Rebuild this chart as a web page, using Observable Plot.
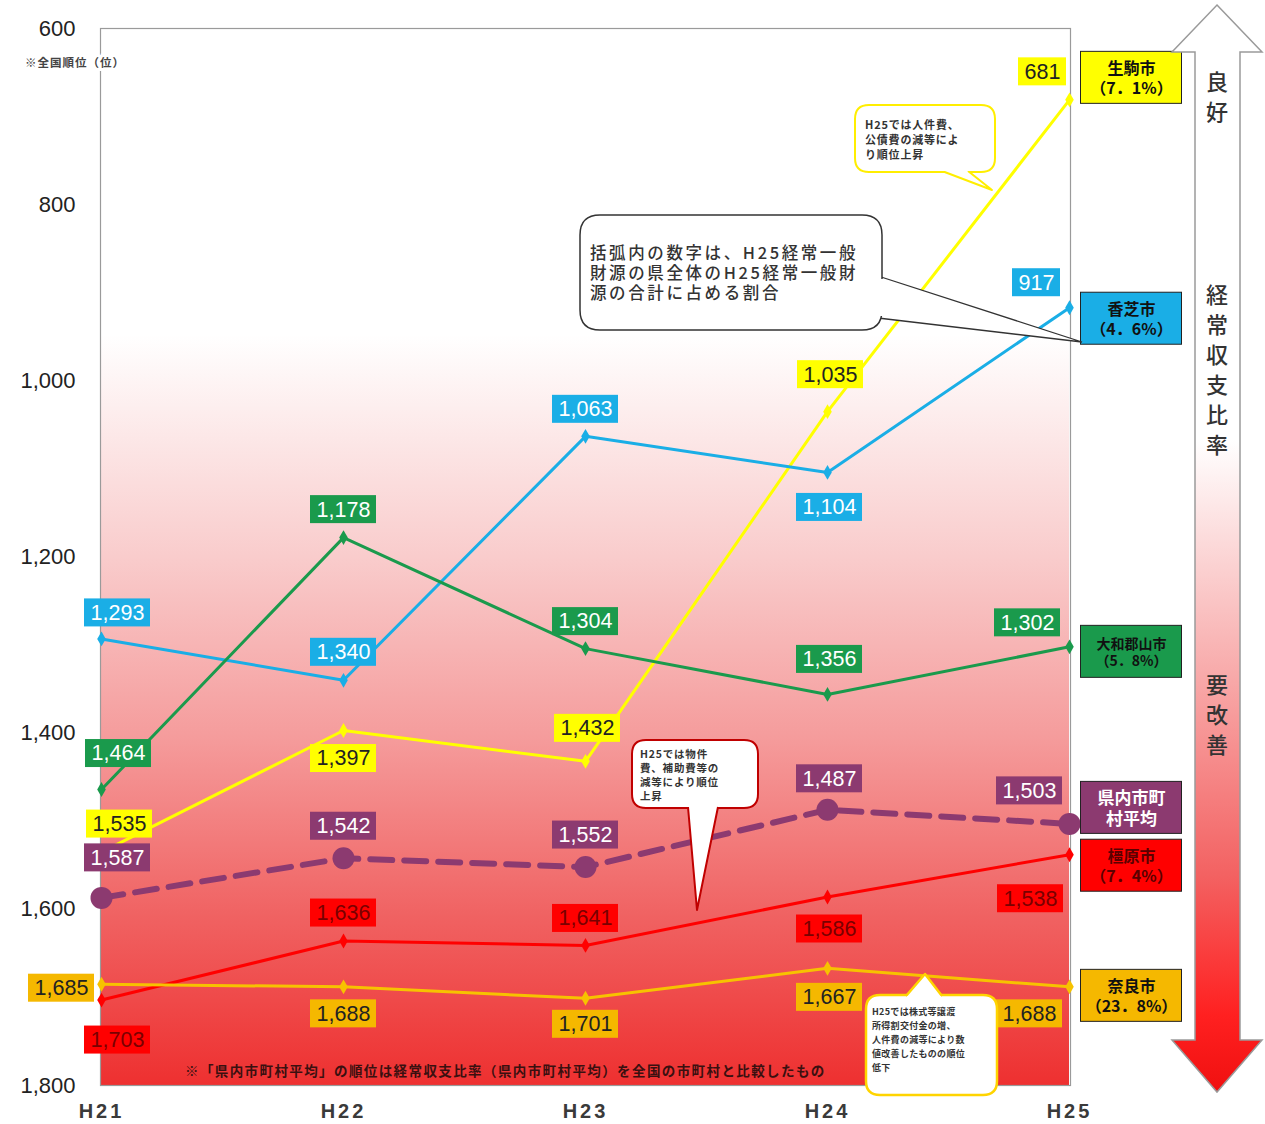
<!DOCTYPE html>
<html><head><meta charset="utf-8">
<script src="https://cdn.jsdelivr.net/npm/d3@7"></script>
<script src="https://cdn.jsdelivr.net/npm/@observablehq/plot@0.6"></script>
<style>
body{margin:0;background:#fff;}
#chart{width:1265px;height:1124px;}
</style>
</head><body><div id="chart"></div>
<script>
// ---- data ----
const years = ["H21","H22","H23","H24","H25"];
const ikoma = [1535,1397,1432,1035,681];
const kashiba = [1293,1340,1063,1104,917];
const yamatokoriyama = [1464,1178,1304,1356,1302];
const prefAverage = [1587,1542,1552,1487,1503];
const kashihara = [1703,1636,1641,1586,1538];
const nara = [1685,1688,1701,1667,1688];
const yTicks = [600,800,1000,1200,1400,1600,1800];
const seriesNames = ["生駒市","香芝市","大和郡山市","県内市町村平均","橿原市","奈良市"];
const legendTexts = ["生駒市\n（7．1%）","香芝市\n（4．6%）","大和郡山市\n（5．8%）","県内市町\n村平均","橿原市\n（7．4%）","奈良市\n（23．8%）"];
const seriesValues = [ikoma,kashiba,yamatokoriyama,prefAverage,kashihara,nara];

// ---- styles / label offsets (pixels) ----
const styles = [
  {line:"#ffff00", box:"#ffff00", ink:"#222", dx:[18,0,2,3,-27], dy:[-28,28,-33,-37,-28], legDy:-22, legInk:"#111", legSize:16},
  {line:"#1aaee6", box:"#1aaee6", ink:"#fff", dx:[16,0,0,2,-33], dy:[-26,-28,-27,35,-25], legDy:11, legInk:"#111", legSize:16},
  {line:"#1a9a4c", box:"#1a9a4c", ink:"#fff", dx:[17,0,0,2,-42], dy:[-36,-28,-27,-35,-24], legDy:5, legInk:"#111", legSize:14},
  {line:"#8c3a70", box:"#8c3a70", ink:"#fff", dx:[16,0,0,2,-40], dy:[-40,-32,-32,-31,-33], legDy:-16, legInk:"#fff", legSize:17, dashed:true},
  {line:"#ff0000", box:"#ff0000", ink:"#7a0000", dx:[16,0,0,2,-39], dy:[40,-28,-27,32,44], legDy:11, legInk:"#5a0000", legSize:16},
  {line:"#f7c200", box:"#f5b800", ink:"#222", dx:[-40,0,0,2,-40], dy:[4,27,26,29,27], legDy:9, legInk:"#111", legSize:16}
];

const fmt = d3.format(",");
const FONT_NUM = "'Liberation Sans', Arial, sans-serif";
const FONT_JP = "'Noto Sans CJK JP', sans-serif";

const marks = [];
marks.push(Plot.rect([{}], {x1: () => "H21", x2: () => "H25", y1: () => 600, y2: () => 1800, fill: "url(#bgGrad)"}));
marks.push(Plot.frame({stroke: "#9a9a9a", strokeWidth: 1.2}));

seriesNames.forEach((name, s) => {
  const st = styles[s];
  const rows = years.map((yr, i) => ({series: name, year: yr, value: seriesValues[s][i], i}));
  marks.push(Plot.line(rows, {x: "year", y: "value", stroke: st.line,
    strokeWidth: st.dashed ? 6 : 3, strokeDasharray: st.dashed ? "22,12" : null}));
  if (st.dashed) marks.push(Plot.dot(rows, {x: "year", y: "value", r: 11, fill: st.line}));
  else marks.push(Plot.dot(rows, {x: "year", y: "value", r: 4.5, symbol: "diamond", fill: st.line}));
});

seriesNames.forEach((name, s) => {
  const st = styles[s];
  years.forEach((yr, i) => {
    const row = [{year: yr, value: seriesValues[s][i]}];
    const txt = fmt(seriesValues[s][i]);
    const w = txt.length <= 3 ? 48 : 66;
    marks.push(Plot.rect(row, {x1: "year", x2: "year", y1: "value", y2: "value",
      insetLeft: -w/2, insetRight: -w/2, insetTop: -14, insetBottom: -14,
      dx: st.dx[i], dy: st.dy[i], fill: st.box}));
    marks.push(Plot.text(row, {x: "year", y: "value", text: () => txt, dx: st.dx[i], dy: st.dy[i],
      fill: st.ink, fontSize: 21.5, fontFamily: FONT_NUM}));
  });
});

seriesNames.forEach((name, s) => {
  const st = styles[s];
  const row = [{year: "H25", value: seriesValues[s][4]}];
  marks.push(Plot.rect(row, {x1: "year", x2: "year", y1: "value", y2: "value",
    insetLeft: -50.5, insetRight: -50.5, insetTop: -26, insetBottom: -26,
    dx: 62, dy: st.legDy, fill: st.box, stroke: "#222", strokeWidth: 1}));
  marks.push(Plot.text(row, {x: "year", y: "value", text: () => legendTexts[s], dx: 62, dy: st.legDy,
    fill: st.legInk, fontSize: st.legSize, lineHeight: 1.25, fontFamily: FONT_JP, fontWeight: "bold"}));
});

marks.push(Plot.axisY({ticks: yTicks, tickFormat: fmt, tickSize: 0, tickPadding: 25, fontSize: 22, label: null, fontFamily: FONT_NUM}));
marks.push(Plot.axisX({tickSize: 0, tickPadding: 18, fontSize: 20, fontWeight: "bold", label: null, fontFamily: FONT_NUM, fill: "#3a3a3a"}));

const chart = Plot.plot({
  width: 1265, height: 1124,
  marginLeft: 100, marginRight: 195, marginTop: 28, marginBottom: 39,
  x: {type: "point", domain: years, padding: 0},
  y: {domain: [600, 1800], reverse: true},
  style: {background: "white", color: "#222", fontFamily: FONT_JP, overflow: "visible"},
  marks
});
document.getElementById("chart").append(chart);

// ---- annotations drawn on top ----
const svg = d3.select(chart);
const defs = svg.insert("defs", ":first-child");
const bg = defs.append("linearGradient").attr("id", "bgGrad").attr("x1", 0).attr("y1", 0).attr("x2", 0).attr("y2", 1);
[[0,"#ffffff"],[0.29,"#ffffff"],[0.5,"#f9cccc"],[0.67,"#f59c9c"],[0.84,"#f06262"],[1,"#ee3030"]]
  .forEach(([o,c]) => bg.append("stop").attr("offset", o).attr("stop-color", c));
const ag = defs.append("linearGradient").attr("id", "arrowGrad").attr("x1", 0).attr("y1", 0).attr("x2", 0).attr("y2", 1);
[[0,"#ffffff"],[0.4,"#ffffff"],[0.58,"#f9b8b8"],[0.8,"#f36262"],[0.93,"#ff2020"],[1,"#f01010"]]
  .forEach(([o,c]) => ag.append("stop").attr("offset", o).attr("stop-color", c));

const layer = svg.append("g").attr("text-anchor", "start");

layer.append("path")
  .attr("d", "M1217,5 L1262,52 L1240,52 L1240,1040 L1262,1040 L1217,1092 L1172,1040 L1195,1040 L1195,52 L1172,52 Z")
  .attr("fill", "url(#arrowGrad)").attr("stroke", "#9a9a9a").attr("stroke-width", 1.5);
const arrowChars = [["良",80],["好",110],["経",293],["常",323],["収",353],["支",383],["比",413],["率",443],["要",683],["改",713],["善",743]];
arrowChars.forEach(([c,y]) => layer.append("text").attr("x", 1217).attr("y", y).attr("text-anchor", "middle")
  .attr("dominant-baseline", "central").attr("font-size", 22).attr("font-family", FONT_JP).attr("font-weight", 500).attr("fill", "#333").text(c));

function bubble(x0, y0, x1, y1, r, tail, stroke, sw) {
  layer.append("path").attr("d",
    `M${x0+r},${y0} H${x1-r} Q${x1},${y0} ${x1},${y0+r} V${y1-r} Q${x1},${y1} ${x1-r},${y1} H${x0+r} Q${x0},${y1} ${x0},${y1-r} V${y0+r} Q${x0},${y0} ${x0+r},${y0} Z`)
    .attr("fill", "white").attr("stroke", stroke).attr("stroke-width", sw);
  if (tail) layer.append("path").attr("d", tail).attr("fill", "white").attr("stroke", stroke).attr("stroke-width", sw).attr("stroke-linejoin", "round");
}
function lines(x, y0, dy, size, arr, spacing, weight) {
  arr.forEach((t, k) => layer.append("text").attr("x", x).attr("y", y0 + k*dy).attr("dominant-baseline", "central")
    .attr("text-anchor", "start")
    .attr("font-size", size).attr("font-family", FONT_JP).attr("font-weight", weight || "bold")
    .attr("letter-spacing", spacing || 0).attr("fill", "#333").text(t));
}

// yellow bubble (生駒市)
bubble(855, 105, 995, 172, 14, "M942,171 L992,190 L968,171", "#ffee00", 2);
layer.append("rect").attr("x", 940).attr("y", 168).attr("width", 30).attr("height", 3).attr("fill", "white");
lines(865, 124, 15, 11, ["H25では人件費、","公債費の減等によ","り順位上昇"], 0.8);

// big explanation bubble
layer.append("path").attr("d", "M878,276 L1082,342 L878,318").attr("fill", "white").attr("stroke", "#333").attr("stroke-width", 1.3);
bubble(580, 215, 882, 330, 20, null, "#333", 1.5);
layer.append("rect").attr("x", 878).attr("y", 279).attr("width", 5).attr("height", 37).attr("fill", "white");
lines(590, 252, 20, 16.5, ["括弧内の数字は、H25経常一般","財源の県全体のH25経常一般財","源の合計に占める割合"], 2.6, 500);

// red bubble
bubble(632, 740, 758, 808, 14, "M688,807 L697,910 L718,807", "#c00000", 2);
layer.append("rect").attr("x", 689).attr("y", 803).attr("width", 28).attr("height", 4).attr("fill", "white");
lines(640, 753, 14, 10.5, ["H25では物件","費、補助費等の","減等により順位","上昇"], 0.8);

// orange bubble (奈良市)
bubble(866, 995, 997, 1095, 14, "M906,996 L925,974 L942,996", "#ffd400", 2.5);
layer.append("rect").attr("x", 907).attr("y", 996).attr("width", 34).attr("height", 4).attr("fill", "white");
lines(872, 1011, 14, 9, ["H25では株式等譲渡","所得割交付金の増、","人件費の減等により数","値改善したものの順位","低下"], 0.3);

// notes
layer.append("text").attr("x", 25).attr("y", 62).attr("dominant-baseline", "central").attr("font-size", 11.5)
  .attr("font-family", FONT_JP).attr("font-weight", "bold").attr("fill", "#444").attr("letter-spacing", 1)
  .attr("stroke", "white").attr("stroke-width", 6).attr("paint-order", "stroke").text("※全国順位（位）");
layer.append("text").attr("x", 185).attr("y", 1070).attr("dominant-baseline", "central").attr("font-size", 13.5)
  .attr("font-family", FONT_JP).attr("font-weight", "bold").attr("fill", "#3a1010").attr("letter-spacing", 1.4)
  .text("※「県内市町村平均」の順位は経常収支比率（県内市町村平均）を全国の市町村と比較したもの");

// x-axis label letter spacing
svg.selectAll("[aria-label='x-axis tick label'] text").attr("letter-spacing", 3);
</script>
</body></html>
